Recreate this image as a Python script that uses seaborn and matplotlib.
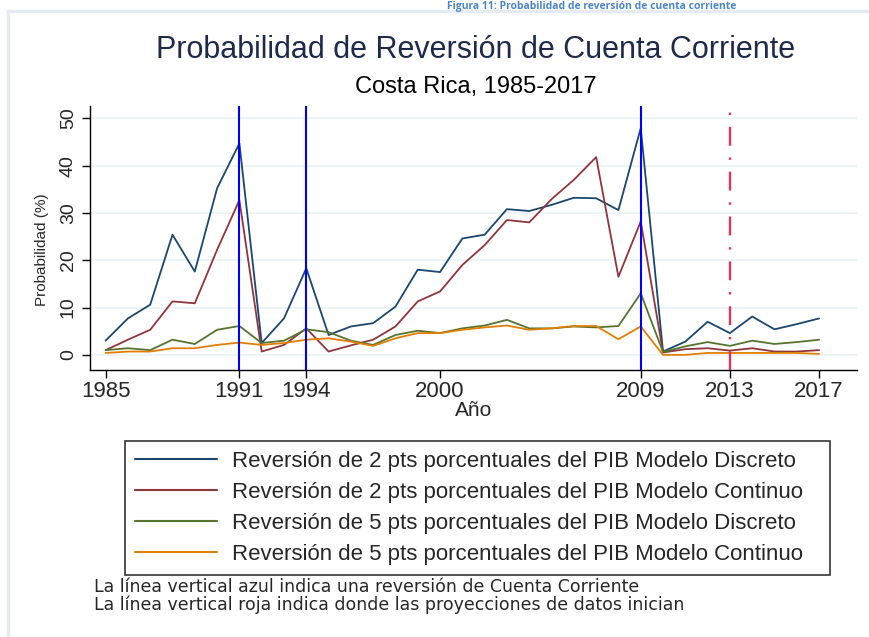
import pandas as pd
import seaborn as sns
import matplotlib.pyplot as plt
from matplotlib.lines import Line2D
from matplotlib.patches import Rectangle

# Data (probability, %)
years = list(range(1985, 2018))

disc_2pts = [3.0, 7.7, 10.6, 25.4, 17.6, 35.2, 44.7, 2.5, 7.7, 18.3, 4.2, 6.0,
             6.7, 10.2, 18.0, 17.5, 24.6, 25.4, 30.8, 30.4, 31.7, 33.2, 33.1,
             30.6, 47.9, 0.7, 2.8, 7.0, 4.6, 8.1, 5.4, 6.5, 7.7]
cont_2pts = [1.0, 3.2, 5.3, 11.3, 10.9, 22.2, 32.7, 0.7, 2.1, 5.6, 0.7, 2.0,
             3.2, 6.0, 11.3, 13.4, 19.0, 23.2, 28.5, 28.0, 32.9, 37.0, 41.8,
             16.5, 28.2, 0.5, 1.2, 1.4, 0.9, 1.4, 0.7, 0.7, 1.0]
disc_5pts = [1.0, 1.4, 1.0, 3.2, 2.3, 5.3, 6.1, 2.5, 3.0, 5.4, 4.8, 3.0,
             2.1, 4.2, 5.1, 4.6, 5.6, 6.2, 7.4, 5.6, 5.6, 6.0, 5.8,
             6.1, 13.0, 0.6, 1.8, 2.7, 1.9, 3.0, 2.3, 2.7, 3.2]
cont_5pts = [0.4, 0.7, 0.7, 1.4, 1.4, 2.1, 2.6, 2.1, 2.5, 3.2, 3.5, 2.8,
             1.9, 3.5, 4.6, 4.6, 5.3, 5.8, 6.2, 5.3, 5.6, 6.1, 6.1,
             3.3, 6.0, 0.0, 0.0, 0.4, 0.4, 0.4, 0.4, 0.4, 0.2]

series_labels = [
    "Reversión de 2 pts porcentuales del PIB Modelo Discreto",
    "Reversión de 2 pts porcentuales del PIB Modelo Continuo",
    "Reversión de 5 pts porcentuales del PIB Modelo Discreto",
    "Reversión de 5 pts porcentuales del PIB Modelo Continuo",
]
series_colors = ["#1a476f", "#90353b", "#55752f", "#e37e00"]

reversal_years = [1991, 1994, 2009]
projection_year = 2013
xtick_years = [1985, 1991, 1994, 2000, 2009, 2013, 2017]
ytick_vals = [0, 10, 20, 30, 40, 50]

notes = [
    "La línea vertical azul indica una reversión de Cuenta Corriente",
    "La línea vertical roja indica donde las proyecciones de datos inician",
]

# long format for seaborn
df = pd.DataFrame({
    "year": years * 4,
    "prob": disc_2pts + cont_2pts + disc_5pts + cont_5pts,
    "serie": [lab for lab in series_labels for _ in years],
})
palette = dict(zip(series_labels, series_colors))

sns.set_style("white")
plt.rcParams["font.family"] = ["Liberation Sans", "DejaVu Sans"]

fig = plt.figure(figsize=(8.7, 6.37), dpi=100)
ax = fig.add_axes([90 / 870, 1 - 370 / 637, (857 - 90) / 870, (370 - 106) / 637])

# outer frame of the document figure
fig.patches.append(Rectangle((8 / 870, -0.05), 1.05, 0.05 + (1 - 11 / 637),
                             transform=fig.transFigure, fill=False,
                             edgecolor="#e4ecf1", lw=2.5))
fig.text(592 / 870, 1 - 0.5 / 637, "Figura 11: Probabilidad de reversión de cuenta corriente",
         ha="center", va="top", fontsize=7.5, fontweight="bold",
         color="#4f86c6", family=["Open Sans", "DejaVu Sans"])

for yv in ytick_vals:
    ax.axhline(yv, color="#eaf2f3", lw=1.2, zorder=0)

sns.lineplot(data=df, x="year", y="prob", hue="serie", palette=palette,
             hue_order=series_labels, lw=1.3, legend=False, ax=ax)

for yr in reversal_years:
    ax.axvline(yr, color="#0000ff", lw=1.5, zorder=5)
ax.axvline(projection_year, color="#d8365f", lw=1.7, ls=(0, (8, 5, 1, 5)),
           ymax=0.985, zorder=5)

ax.set_xlim(1984.3, 2018.7)
ax.set_ylim(-3.2, 52.6)
ax.set_xticks(xtick_years)
ax.set_xticklabels([str(y) for y in xtick_years], fontsize=16)
ax.set_yticks(ytick_vals)
ax.set_yticklabels([str(v) for v in ytick_vals], fontsize=14, rotation=90, va="center")
ax.tick_params(axis="both", direction="out", length=6, width=1, color="black",
               left=True, bottom=True)
ax.tick_params(axis="x", pad=2)
ax.set_xlabel("")
ax.set_ylabel("")
for side in ["top", "right"]:
    ax.spines[side].set_visible(False)
for side in ["left", "bottom"]:
    ax.spines[side].set_color("black")
    ax.spines[side].set_linewidth(1)

fig.text(476 / 870, 1 - 50 / 637, "Probabilidad de Reversión de Cuenta Corriente",
         ha="center", va="center", fontsize=22, color="#1e2a4a")
fig.text(476 / 870, 1 - 87 / 637, "Costa Rica, 1985-2017",
         ha="center", va="center", fontsize=17, color="black")
fig.text(474 / 870, 1 - 411 / 637, "Año", ha="center", va="center", fontsize=15)
fig.text(42 / 870, 1 - 250 / 637, "Probabilidad (%)", ha="center", va="center",
         rotation=90, fontsize=11)

handles = [Line2D([0], [0], color=c, lw=1.5) for c in series_colors]
leg = fig.legend(handles, series_labels, loc="upper left", mode="expand",
                 bbox_to_anchor=(125 / 870, 1 - 573 / 637, 705 / 870, 132 / 637),
                 fontsize=16, handlelength=3.7, handletextpad=0.65,
                 borderpad=0.45, labelspacing=0.45, frameon=True,
                 fancybox=False, borderaxespad=0)
leg.get_frame().set_edgecolor("black")
leg.get_frame().set_linewidth(1.2)

fig.text(94 / 870, 1 - 596 / 637, "\n".join(notes), ha="left", va="center",
         fontsize=12.5, linespacing=0.9, family=["DejaVu Sans"])

fig.savefig("out.png", dpi=100)
